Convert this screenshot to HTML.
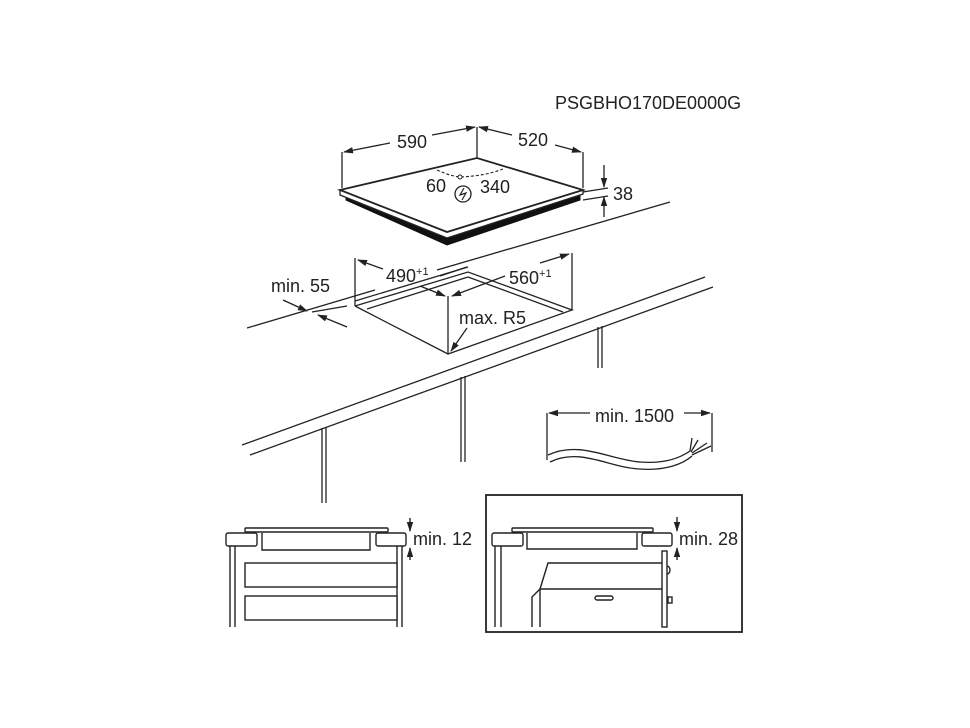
<!DOCTYPE html>
<html><head><meta charset="utf-8"><style>
body{margin:0;background:#fff}
svg{display:block}
text{font-family:"Liberation Sans",Arial,sans-serif;fill:#222;font-size:18px}
</style></head><body>
<svg width="970" height="728" viewBox="0 0 970 728" xmlns="http://www.w3.org/2000/svg">
<defs>
<marker id="a" markerWidth="10" markerHeight="8" refX="9" refY="4" orient="auto" markerUnits="userSpaceOnUse">
<path d="M0,0.8 L10,4 L0,7.2 Z" fill="#222"/></marker>
</defs>
<rect width="970" height="728" fill="#fff"/>
<text x="555" y="109">PSGBHO170DE0000G</text>

<g stroke="#222" fill="none" stroke-width="1.3">
<line x1="342" y1="152" x2="342" y2="188"/>
<line x1="477" y1="127" x2="477" y2="158"/>
<line x1="583" y1="152" x2="583" y2="188"/>
<line x1="390" y1="143" x2="344" y2="152" marker-end="url(#a)"/>
<line x1="432" y1="135" x2="475" y2="127" marker-end="url(#a)"/>
<line x1="512" y1="135" x2="479" y2="127" marker-end="url(#a)"/>
<line x1="555" y1="145" x2="581" y2="152" marker-end="url(#a)"/>
<line x1="583" y1="192" x2="608" y2="188"/>
<line x1="583" y1="200" x2="608" y2="196"/>
<line x1="604" y1="165" x2="604" y2="187" marker-end="url(#a)"/>
<line x1="604" y1="217" x2="604" y2="197" marker-end="url(#a)"/>
</g>
<text x="397" y="148">590</text>
<text x="518" y="146">520</text>
<text x="613" y="200">38</text>

<polygon points="346,195 447,237 580,196 580,200 447,245 346,200" fill="#111" stroke="#111" stroke-width="1"/>
<polygon points="340,190 447,232 583,190 583,194 447,238 340,195" fill="#fff" stroke="#222" stroke-width="1.3"/>
<polygon points="340,190 477,158 583,190 447,232" fill="#fff" stroke="#222" stroke-width="1.8"/>
<path d="M437,170 Q450,176 460,177 Q485,176 503,169" stroke="#222" fill="none" stroke-width="1.1" stroke-dasharray="3,2"/>
<circle cx="460" cy="177" r="2" fill="#fff" stroke="#222"/>
<text x="426" y="192">60</text>
<circle cx="463" cy="194" r="8" fill="none" stroke="#222" stroke-width="1.3"/>
<path d="M464,188 L460,195 L466,193 L462,200" stroke="#222" fill="none" stroke-width="1.2"/>
<text x="480" y="193">340</text>

<g stroke="#222" fill="none" stroke-width="1.3">
<line x1="247" y1="328" x2="375" y2="290"/>
<line x1="437" y1="270" x2="670" y2="202"/>
<line x1="312" y1="312" x2="347" y2="306"/>
<line x1="242" y1="445" x2="705" y2="277"/>
<line x1="250" y1="455" x2="713" y2="287"/>
<line x1="322" y1="428" x2="322" y2="503"/><line x1="326" y1="427" x2="326" y2="503"/>
<line x1="461" y1="377" x2="461" y2="462"/><line x1="465" y1="376" x2="465" y2="462"/>
<line x1="598" y1="327" x2="598" y2="368"/><line x1="602" y1="326" x2="602" y2="368"/>
<line x1="355" y1="258" x2="355" y2="306"/>
<line x1="572" y1="253" x2="572" y2="310"/>
<line x1="448" y1="296" x2="448" y2="354"/>
<polyline points="355,306 468,272 572,310 448,354 355,306"/>
<line x1="367" y1="309" x2="468" y2="277"/>
<line x1="468" y1="277" x2="563" y2="312"/>
<line x1="355" y1="301" x2="468" y2="267"/>
<line x1="383" y1="269" x2="358" y2="260" marker-end="url(#a)"/>
<line x1="420" y1="286" x2="445" y2="296" marker-end="url(#a)"/>
<line x1="440" y1="276" x2="467" y2="267"/>
<line x1="540" y1="263" x2="569" y2="254" marker-end="url(#a)"/>
<line x1="505" y1="276" x2="452" y2="296" marker-end="url(#a)"/>
<line x1="283" y1="300" x2="307" y2="311" marker-end="url(#a)"/>
<line x1="347" y1="327" x2="318" y2="315" marker-end="url(#a)"/>
<line x1="467" y1="328" x2="451" y2="351" marker-end="url(#a)"/>
<line x1="547" y1="413" x2="547" y2="460"/>
<line x1="712" y1="413" x2="712" y2="452"/>
<line x1="590" y1="413" x2="549" y2="413" marker-end="url(#a)"/>
<line x1="684" y1="413" x2="710" y2="413" marker-end="url(#a)"/>
<path d="M548,455 C580,440 610,460 640,462 C665,464 680,458 690,451"/>
<path d="M550,462 C580,447 610,468 640,469 C665,471 683,464 692,456"/>
<path d="M690,451 L692,438 M691,452 L698,440 M692,453 L707,443 M692,455 L711,446"/>
</g>
<text x="386" y="282">490<tspan font-size="11" dy="-7">+1</tspan></text>
<text x="509" y="284">560<tspan font-size="11" dy="-7">+1</tspan></text>
<text x="271" y="292">min. 55</text>
<text x="459" y="324">max. R5</text>
<text x="595" y="422">min. 1500</text>

<g stroke="#222" fill="#fff" stroke-width="1.4">
<rect x="245" y="528" width="143" height="4" rx="1"/>
<rect x="226" y="533" width="31" height="13" rx="2"/>
<rect x="376" y="533" width="30" height="13" rx="2"/>
<path d="M262,533 V550 H370 V533" fill="none"/>
<line x1="230" y1="546" x2="230" y2="627"/><line x1="235" y1="546" x2="235" y2="627"/>
<line x1="397" y1="546" x2="397" y2="627"/><line x1="402" y1="546" x2="402" y2="627"/>
<rect x="245" y="563" width="152" height="24"/>
<rect x="245" y="596" width="152" height="24"/>
<line x1="410" y1="518" x2="410" y2="531" marker-end="url(#a)" fill="none"/>
<line x1="410" y1="560" x2="410" y2="548" marker-end="url(#a)" fill="none"/>
</g>
<text x="413" y="545">min. 12</text>

<g stroke="#222" fill="#fff" stroke-width="1.4">
<rect x="486" y="495" width="256" height="137" stroke-width="1.8"/>
<rect x="512" y="528" width="141" height="4" rx="1"/>
<rect x="492" y="533" width="31" height="13" rx="2"/>
<rect x="642" y="533" width="30" height="13" rx="2"/>
<path d="M527,533 V549 H637 V533" fill="none"/>
<line x1="495" y1="546" x2="495" y2="627"/><line x1="501" y1="546" x2="501" y2="627"/>
<path d="M532,627 V597 L540,589 V627" fill="none"/>
<path d="M540,589 L548,563 H662" fill="none"/>
<line x1="540" y1="589" x2="662" y2="589"/>
<rect x="662" y="551" width="5" height="76"/>
<path d="M667,566 a3,4 0 0 1 0,8" fill="none"/>
<rect x="668" y="597" width="4" height="6"/>
<rect x="595" y="596" width="18" height="4" rx="2"/>
<line x1="677" y1="517" x2="677" y2="531" marker-end="url(#a)" fill="none"/>
<line x1="677" y1="560" x2="677" y2="548" marker-end="url(#a)" fill="none"/>
</g>
<text x="679" y="545">min. 28</text>
</svg>
</body></html>
